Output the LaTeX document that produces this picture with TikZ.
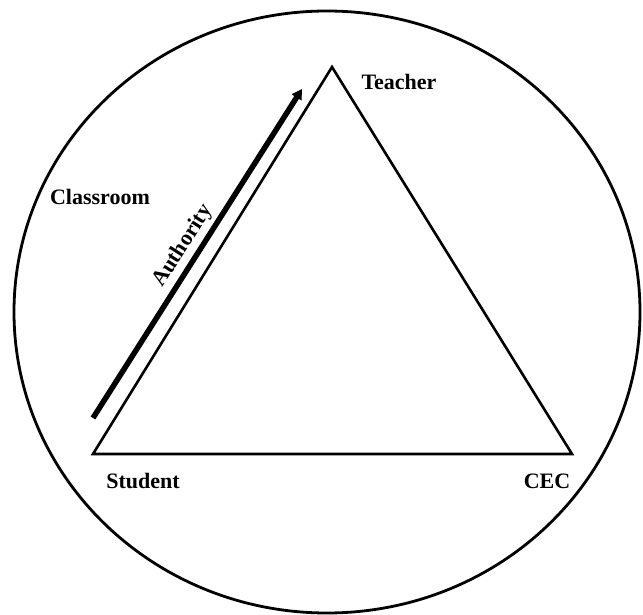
\documentclass[tikz,border=0pt]{standalone}
\usepackage{fontspec}
\setmainfont{Liberation Serif}
\usetikzlibrary{arrows.meta}
\tikzset{
  lbl/.style={font=\fontsize{22}{24}\selectfont\bfseries, inner sep=0pt},
  edge/.style={line width=2.6pt, line join=miter},
  authority/.style={line width=5.5pt, -{Triangle[length=10pt,width=11pt]}}
}
\begin{document}
\begin{tikzpicture}[x=1pt,y=-1pt]
\useasboundingbox (0,0) rectangle (643,615);
\draw[line width=2.8pt] (327,312) ellipse [x radius=313, y radius=301];
\coordinate (T) at (332,67);
\coordinate (S) at (93,454);
\coordinate (C) at (572,454);
\draw[edge] (T) -- (C) -- (S) -- cycle;
\coordinate (a1) at (93,418);
\coordinate (a2) at (302,89);
\draw[authority] (a1) -- (a2);
\node[lbl] (teacher) at (399,82) {Teacher};
\node[lbl] (classroom) at (100,197) {Classroom};
\node[lbl] (student) at (143,481) {Student};
\node[lbl] (cec) at (547,481) {CEC};
\node[lbl, rotate=57.5] (auth) at (183,246) {Authority};
\end{tikzpicture}
\end{document}
